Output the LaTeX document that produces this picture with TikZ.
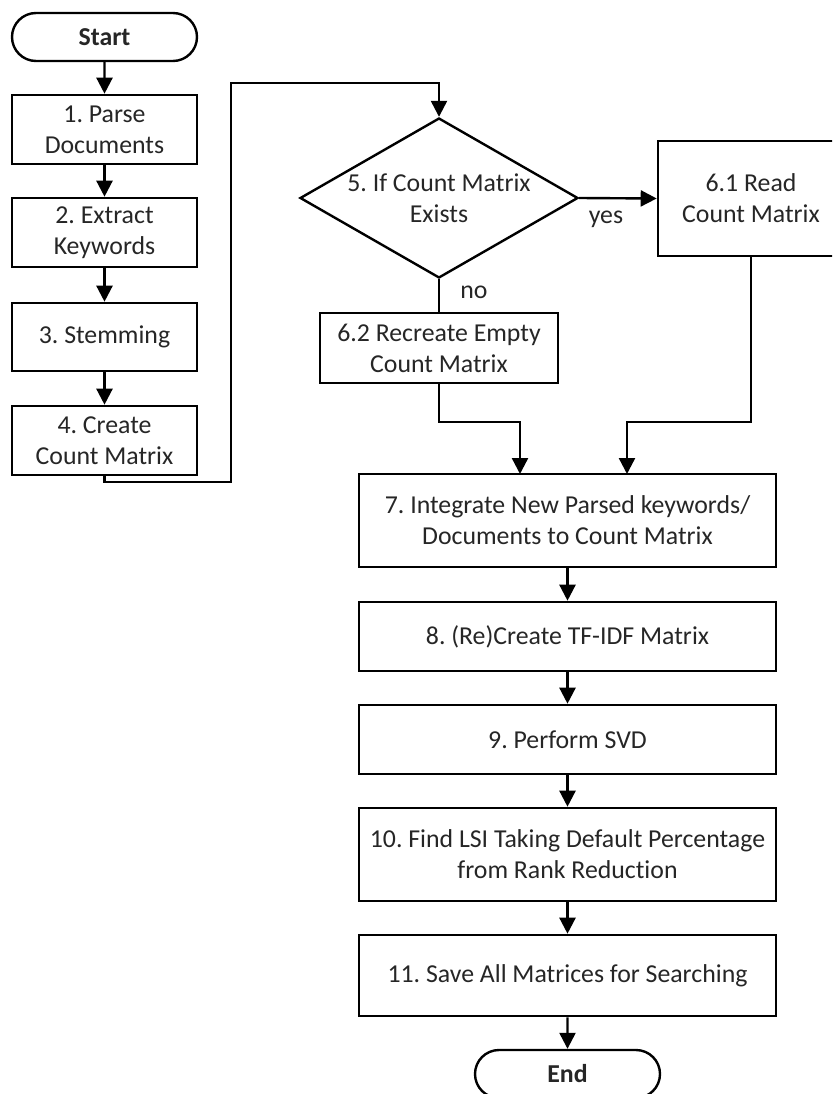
\documentclass[tikz,border=0pt]{standalone}
\usepackage{fontspec}
\setmainfont{Carlito}[Ligatures={NoCommon}]
\frenchspacing
\usetikzlibrary{shapes.geometric,shapes.misc,arrows.meta}
\tikzset{
  every node/.style={font=\fontsize{25.8}{31}\selectfont, text=black!85, align=center, inner sep=0pt},
  procbox/.style={draw=black, line width=2.6pt, rectangle, fill=white},
  term/.style={draw=black, line width=2.4pt, rounded rectangle, minimum width=185pt, minimum height=48pt, font=\fontsize{25.8}{31}\selectfont\bfseries},
  decide/.style={draw=black, line width=2.4pt, diamond, aspect=1.74, minimum width=278pt, minimum height=160pt},
  conn/.style={draw=black, line width=2.4pt},
  arr/.style={conn, -{Triangle[length=16pt,width=16pt]}},
  lbl/.style={font=\fontsize{25.8}{31}\selectfont}
}
\begin{document}
\begin{tikzpicture}[x=1pt,y=-1pt]
\useasboundingbox (0,0) rectangle (832,1094);
\clip (0,0) rectangle (832,1094);
% left column
\node[term] (start) at (104.5,37) {Start};
\node[procbox, minimum width=185pt, minimum height=69pt] (b1) at (104.5,129.5) {1. Parse\\Documents};
\node[procbox, minimum width=185pt, minimum height=69pt] (b2) at (104.5,232.5) {2. Extract\\Keywords};
\node[procbox, minimum width=185pt, minimum height=68pt] (b3) at (104.5,337) {3. Stemming};
\node[procbox, minimum width=185pt, minimum height=69pt] (b4) at (104.5,440.5) {4. Create\\Count Matrix};
% decision
\node[decide] (d5) at (439,198) {5. If Count Matrix\\Exists};
\node[procbox, minimum width=186pt, minimum height=115pt] (b61) at (751,198.5) {6.1 Read\\Count Matrix};
\node[procbox, minimum width=238pt, minimum height=70pt] (b62) at (439,348) {6.2 Recreate Empty\\Count Matrix};
\node[lbl] (yes) at (606,219) {yes};
\node[lbl] (no) at (474,292) {no};
% right column
\node[procbox, minimum width=417pt, minimum height=93pt] (b7) at (567.5,520.5) {7. Integrate New Parsed keywords/\\Documents to Count Matrix};
\node[procbox, minimum width=417pt, minimum height=69pt] (b8) at (567.5,636.5) {8. (Re)Create TF-IDF Matrix};
\node[procbox, minimum width=417pt, minimum height=69pt] (b9) at (567.5,739.5) {9. Perform SVD};
\node[procbox, minimum width=417pt, minimum height=93pt] (b10) at (567.5,854.5) {10. Find LSI Taking Default Percentage\\from Rank Reduction};
\node[procbox, minimum width=417pt, minimum height=81pt] (b11) at (567.5,975.5) {11. Save All Matrices for Searching};
\node[term] (end) at (567.5,1074) {End};
% coordinates for bends
\coordinate (c1) at (104.5,482);
\coordinate (c2) at (231,482);
\coordinate (c3) at (231,83);
\coordinate (c4) at (439,83);
\coordinate (m1) at (439,422);
\coordinate (m2) at (520,422);
\coordinate (m3) at (751,422);
\coordinate (m4) at (627,422);
\coordinate (t1) at (520,474);
\coordinate (t2) at (627,474);
% connectors
\draw[arr] (start) -- (b1);
\draw[arr] (b1) -- (b2);
\draw[arr] (b2) -- (b3);
\draw[arr] (b3) -- (b4);
\draw[arr] (b4.south) -- (c1) -- (c2) -- (c3) -- (c4) -- (d5.north);
\draw[arr] (d5.east) -- (b61.west);
\draw[conn] (d5.south) -- (b62.north);
\draw[arr] (b62.south) -- (m1) -- (m2) -- (t1);
\draw[arr] (b61.south) -- (m3) -- (m4) -- (t2);
\draw[arr] (b7) -- (b8);
\draw[arr] (b8) -- (b9);
\draw[arr] (b9) -- (b10);
\draw[arr] (b10) -- (b11);
\draw[arr] (b11) -- (end);
\end{tikzpicture}
\end{document}
